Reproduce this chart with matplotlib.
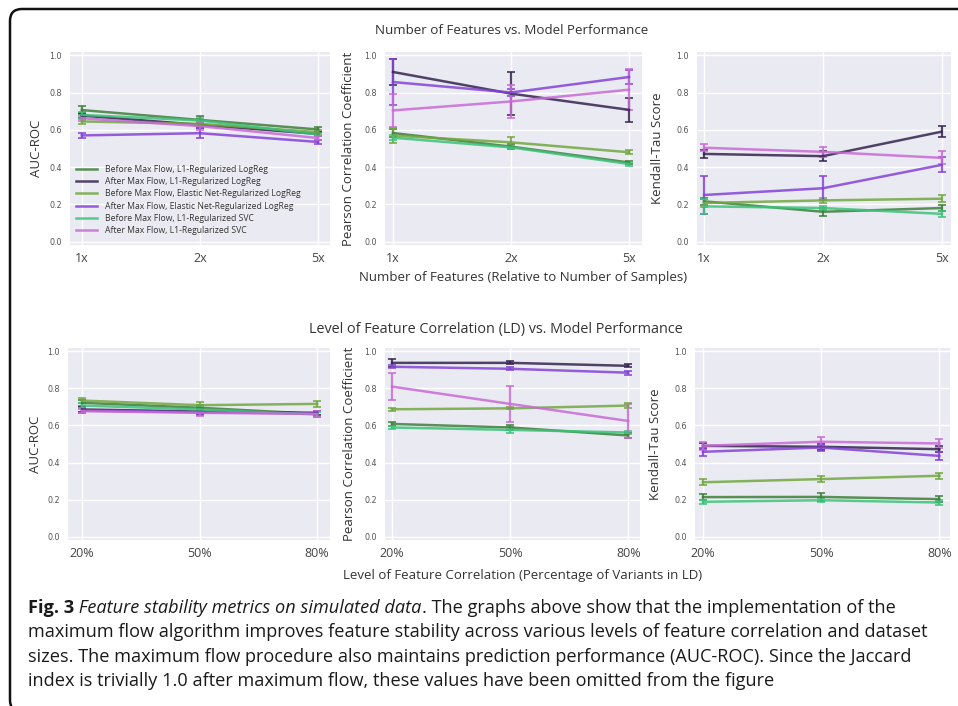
import numpy as np
import matplotlib.pyplot as plt
from matplotlib.patches import FancyBboxPatch
from matplotlib.lines import Line2D

W, H = 958, 706
FONT = ['Open Sans', 'DejaVu Sans']
plt.rcParams['font.family'] = FONT

# ---- data ----
x = [0, 1, 2]
feat_labels = ['1x', '2x', '5x']
ld_labels = ['20%', '50%', '80%']
series = ['Before Max Flow, L1-Regularized LogReg',
          'After Max Flow, L1-Regularized LogReg',
          'Before Max Flow, Elastic Net-Regularized LogReg',
          'After Max Flow, Elastic Net-Regularized LogReg',
          'Before Max Flow, L1-Regularized SVC',
          'After Max Flow, L1-Regularized SVC']
colors = ['#3f7f3a', '#35254f', '#72a83f', '#8343d8', '#3cc27a', '#c86ad6']

# number of features, rows follow `series`
auc_feat = [[0.706, 0.653, 0.602], [0.676, 0.627, 0.578], [0.645, 0.632, 0.588],
            [0.570, 0.582, 0.535], [0.680, 0.650, 0.575], [0.662, 0.620, 0.556]]
auc_feat_err = [[0.022, 0.020, 0.012], [0.015, 0.015, 0.012], [0.015, 0.012, 0.010],
                [0.012, 0.027, 0.012], [0.015, 0.015, 0.010], [0.012, 0.020, 0.012]]
pear_feat = [[0.583, 0.510, 0.425], [0.910, 0.794, 0.707], [0.569, 0.533, 0.480],
             [0.856, 0.800, 0.883], [0.558, 0.506, 0.417], [0.704, 0.752, 0.815]]
pear_feat_err = [[0.020, 0.015, 0.010], [0.070, 0.115, 0.063], [0.040, 0.030, 0.010],
                 [0.125, 0.020, 0.040], [0.015, 0.010, 0.010], [0.090, 0.090, 0.110]]
kend_feat = [[0.217, 0.161, 0.181], [0.471, 0.459, 0.590], [0.208, 0.222, 0.231],
             [0.251, 0.287, 0.412], [0.190, 0.181, 0.150], [0.504, 0.482, 0.450]]
kend_feat_err = [[0.020, 0.020, 0.015], [0.020, 0.025, 0.030], [0.020, 0.015, 0.020],
                 [0.100, 0.065, 0.040], [0.040, 0.010, 0.015], [0.020, 0.025, 0.035]]

# level of feature correlation
auc_ld = [[0.722, 0.695, 0.662], [0.686, 0.675, 0.668], [0.734, 0.709, 0.716],
          [0.680, 0.671, 0.664], [0.707, 0.686, 0.659], [0.677, 0.668, 0.662]]
auc_ld_err = [[0.015, 0.015, 0.015], [0.012, 0.012, 0.012], [0.012, 0.015, 0.015],
              [0.012, 0.015, 0.015], [0.012, 0.012, 0.012], [0.012, 0.015, 0.015]]
pear_ld = [[0.608, 0.589, 0.546], [0.937, 0.937, 0.921], [0.687, 0.692, 0.707],
           [0.916, 0.905, 0.884], [0.589, 0.576, 0.562], [0.809, 0.716, 0.624]]
pear_ld_err = [[0.012, 0.015, 0.012], [0.022, 0.008, 0.008], [0.008, 0.005, 0.012],
               [0.008, 0.008, 0.010], [0.010, 0.015, 0.010], [0.072, 0.097, 0.094]]
kend_ld = [[0.214, 0.215, 0.203], [0.490, 0.485, 0.472], [0.294, 0.311, 0.329],
           [0.458, 0.481, 0.436], [0.189, 0.197, 0.185], [0.490, 0.512, 0.503]]
kend_ld_err = [[0.015, 0.020, 0.015], [0.015, 0.015, 0.015], [0.015, 0.015, 0.015],
               [0.020, 0.020, 0.020], [0.012, 0.012, 0.012], [0.020, 0.025, 0.025]]

fig = plt.figure(figsize=(W / 100, H / 100), dpi=100)
fig.patch.set_facecolor('white')


def px_axes(l, t, r, b):
    return fig.add_axes([l / W, 1 - b / H, (r - l) / W, (b - t) / H])


def panel(ax, means, errs, xlabels, xlim, ylabel, ylab_off):
    ax.set_facecolor('#eaeaf2')
    for s in ax.spines.values():
        s.set_visible(False)
    ax.grid(True, color='white', lw=1.0)
    ax.set_axisbelow(True)
    for m, e, c in zip(means, errs, colors):
        ax.errorbar(x, m, yerr=e, color=c, lw=1.8, elinewidth=1.6, capsize=2.8,
                    capthick=1.3, alpha=0.85)
    ax.set_xlim(*xlim)
    ax.set_ylim(-0.017, 1.017)
    ax.set_xticks(x)
    ax.set_xticklabels(xlabels, fontsize=9, color='#444444')
    ax.set_yticks([0, 0.2, 0.4, 0.6, 0.8, 1.0])
    ax.set_yticklabels(['0.0', '0.2', '0.4', '0.6', '0.8', '1.0'],
                       fontsize=5.8, color='#555555', family='DejaVu Sans')
    ax.tick_params(length=0, pad=6)
    ax.tick_params(axis='x', pad=5)
    ax.set_ylabel(ylabel, fontsize=9.5, color='#333333')
    ax.yaxis.set_label_coords(ylab_off, 0.5)


ax1 = px_axes(70, 52, 330, 245)
ax2 = px_axes(385, 52, 642, 245)
ax3 = px_axes(697, 52, 951, 245)
ax4 = px_axes(68, 348, 330, 540)
ax5 = px_axes(385, 348, 640, 540)
ax6 = px_axes(695, 348, 950, 540)

panel(ax1, auc_feat, auc_feat_err, feat_labels, (-0.10, 2.10), 'AUC-ROC', -0.105)
panel(ax2, pear_feat, pear_feat_err, feat_labels, (-0.068, 2.11), 'Pearson Correlation Coefficient', -0.115)
panel(ax3, kend_feat, kend_feat_err, feat_labels, (-0.06, 2.08), 'Kendall-Tau Score', -0.13)
panel(ax4, auc_ld, auc_ld_err, ld_labels, (-0.12, 2.11), 'AUC-ROC', -0.1)
panel(ax5, pear_ld, pear_ld_err, ld_labels, (-0.06, 2.10), 'Pearson Correlation Coefficient', -0.115)
panel(ax6, kend_ld, kend_ld_err, ld_labels, (-0.068, 2.09), 'Kendall-Tau Score', -0.13)

handles = [Line2D([], [], color=c, lw=1.8, alpha=0.85) for c in colors]
leg = ax1.legend(handles, series, loc='lower left', bbox_to_anchor=(0.0, 0.02), frameon=False,
                 fontsize=6.2, handlelength=2.4, handletextpad=1.0, labelspacing=0.38,
                 borderaxespad=0.3)
for t in leg.get_texts():
    t.set_color('#333333')

# titles and shared x labels
fig.text(512 / W, 1 - 31 / H, 'Number of Features vs. Model Performance',
         ha='center', va='center', fontsize=9.6, color='#333333')
fig.text(523 / W, 1 - 278 / H, 'Number of Features (Relative to Number of Samples)',
         ha='center', va='center', fontsize=9.5, color='#333333')
fig.text(496 / W, 1 - 329 / H, 'Level of Feature Correlation (LD) vs. Model Performance',
         ha='center', va='center', fontsize=10.4, color='#333333')
fig.text(523 / W, 1 - 575 / H, 'Level of Feature Correlation (Percentage of Variants in LD)',
         ha='center', va='center', fontsize=9.5, color='#333333')

# frame around the figure
frame = FancyBboxPatch((0.10, -0.06), 12, 7.03, boxstyle='round,pad=0,rounding_size=0.12',
                       transform=fig.dpi_scale_trans, fill=False, lw=1.8, ec='#111111')
fig.add_artist(frame)

# caption
cap_size = 13.1
renderer = fig.canvas.get_renderer()
x0 = 28 / W
y1 = 1 - 608 / H
parts = [('Fig. 3', 'bold', 'normal'), (' Feature stability metrics on simulated data', 'normal', 'italic'),
         ('. The graphs above show that the implementation of the', 'normal', 'normal')]
xc = x0
for txt, wt, st in parts:
    t = fig.text(xc, y1, txt, ha='left', va='center', fontsize=cap_size, fontweight=wt,
                 fontstyle=st, color='#1a1a1a')
    bb = t.get_window_extent(renderer)
    xc = xc + bb.width / W
cap_lines = ['maximum flow algorithm improves feature stability across various levels of feature correlation and dataset',
             'sizes. The maximum flow procedure also maintains prediction performance (AUC-ROC). Since the Jaccard',
             'index is trivially 1.0 after maximum flow, these values have been omitted from the figure']
for i, line in enumerate(cap_lines):
    fig.text(x0, 1 - (632 + 24.5 * i) / H, line, ha='left', va='center', fontsize=cap_size,
             color='#1a1a1a')

fig.savefig('out.png', dpi=100)
